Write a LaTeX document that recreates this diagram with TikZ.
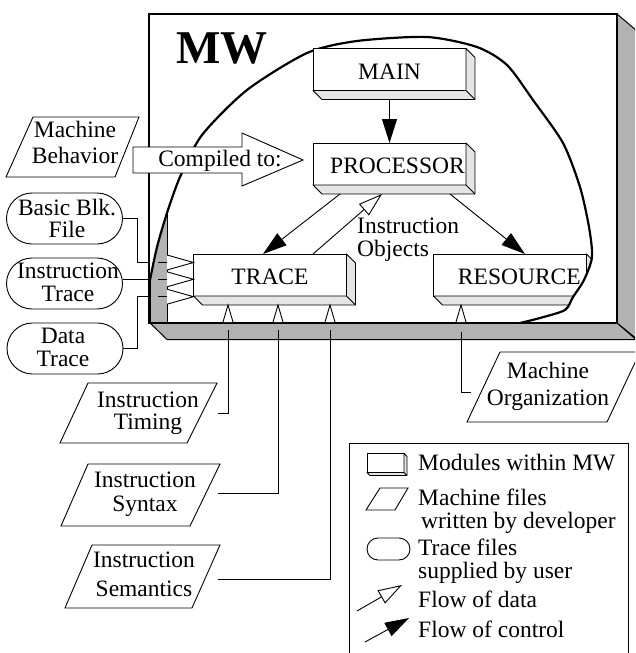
\documentclass[tikz,border=0pt]{standalone}
\usepackage{fontspec}
\setmainfont{Liberation Serif}
\usetikzlibrary{arrows.meta,calc,shapes.misc}
\definecolor{traygray}{gray}{0.70}
\definecolor{depthgray}{gray}{0.90}
\newcommand\moddepth[2]{%
  \filldraw[depthface] (#1.north east) -- ++(#2,#2) -- ($(#1.south east)+(#2,#2)$) -- ($(#1.south west)+(#2,#2)$) -- (#1.south west) -- (#1.south east) -- cycle;
  \draw[depthface] (#1.south east) -- ++(#2,#2);}
\begin{document}
\begin{tikzpicture}[x=1pt,y=-1pt,
  tray/.style={fill=traygray, draw=black, line width=1pt, line join=round},
  depthface/.style={fill=depthgray, draw=black, line width=0.9pt, line join=round},
  module/.style={draw, fill=white, line width=0.9pt, minimum width=153pt, minimum height=42pt,
     inner sep=0pt, outer sep=0pt, text height=19pt, text depth=0pt, font=\fontsize{23.5}{24}\selectfont},
  oval/.style={draw, fill=white, line width=0.9pt, rounded rectangle, minimum width=116pt,
     minimum height=51pt, inner sep=0pt, outer sep=0pt},
  para/.style={draw, fill=white, line width=0.9pt, line join=miter},
  txt/.style={inner sep=0pt, align=center},
  conn/.style={line width=0.9pt},
  tri/.style={draw, fill=white, line width=0.9pt, line join=miter},
  ctrl/.style={line width=0.9pt, -{Triangle[length=24pt,width=15pt]}},
  data/.style={line width=0.9pt, -{Triangle[open,length=24pt,width=15pt,fill=white]}},
]
\useasboundingbox (0,0) rectangle (635,653);
\clip (0,0) rectangle (635,653);

% ---- MW tray (3D box) ----
\filldraw[tray] (617,14) -- (637,31) -- (637,339) -- (617,323) -- cycle;
\filldraw[tray] (150,323) -- (617,323) -- (636,339.5) -- (167,339.5) -- cycle;

\begin{scope}
  \clip plot[smooth,tension=0.45] coordinates {(150,280) (157,247) (167,213) (180,177) (202,135) (247,90) (307,53) (357,41) (427,37) (477,47) (507,65) (533,100) (563,143) (580,187) (589,227) (592,257) (584,280) (573,297) (565,310) (540,318) (520,323)} -- (150,323) -- cycle;
  \filldraw[tray] (150,150) rectangle (167,323);
  \node[module] (res) at (510,275) {\hspace*{18.7pt}RESOURCE};
  \moddepth{res}{9}
\end{scope}

\draw[line width=2pt] (149,14) rectangle (617,323);

% blob boundary
\draw[line width=2.2pt, line join=round, line cap=round] plot[smooth,tension=0.45] coordinates {(150,280) (157,247) (167,213) (180,177) (202,135) (247,90) (307,53) (357,41) (427,37) (477,47) (507,65) (533,100) (563,143) (580,187) (589,227) (592,257) (584,280) (573,297) (565,310) (540,318) (520,323)};

\node[font=\fontsize{47}{47}\selectfont\bfseries, inner sep=0pt, anchor=base west] (mw) at (176,63) {MW};

% ---- modules ----
\node[module] (main) at (389.5,69.5) {MAIN};
\moddepth{main}{9}
\node[module] (proc) at (389.5,164) {\hspace*{16pt}PROCESSOR};
\moddepth{proc}{9}
\node[module] (trace) at (270,275) {TRACE};
\moddepth{trace}{9}

% ---- arrows between modules ----
\draw[ctrl] ($(main.south)+(0,9)$) -- (proc.north);
\draw[ctrl] ($(proc.south west)+(27,9)$) -- ($(trace.north)+(-7,0)$);
\draw[data] ($(trace.north)+(43,0)$) -- ($(proc.south)+(-7.5,9)$);
\draw[ctrl] ($(proc.south)+(60.5,9)$) -- ($(res.north)+(15,0)$);
\node[txt, align=left, anchor=west, font=\fontsize{23.5}{23.4}\selectfont] (iobj) at (357,239.5) {Instruction\\Objects};

% ---- Machine Behavior + Compiled to ----
\draw[para] (33,117) -- (139,117) -- (115,177) -- (6,177) -- cycle;
\node[txt, font=\fontsize{23.5}{26}\selectfont] (mbeh) at (75,142) {Machine\\Behavior};
\draw[line width=0.9pt, fill=white, line join=miter] (133,147) -- (242,147) -- (242,133) -- (303,160) -- (242,186) -- (242,173) -- (133,173) -- cycle;
\node[inner sep=0pt, anchor=base, font=\fontsize{23.5}{24}\selectfont] (comp) at (220,166) {Compiled to:};

% ---- trace files (ovals) ----
\node[oval] (bblk) at (64.5,218.5) {};
\node[txt, font=\fontsize{23.5}{22.5}\selectfont] (bblkt) at (67,218.5) {Basic Blk.\\File};
\node[oval] (itr) at (64.5,283.5) {};
\node[txt, font=\fontsize{23.5}{22.5}\selectfont] (itrt) at (68,282.5) {Instruction\\Trace};
\node[oval] (dtr) at (65,348.5) {};
\node[txt, font=\fontsize{23.5}{22.5}\selectfont] (dtrt) at (63,347.5) {Data\\Trace};

\coordinate (jx) at (137,0);
\coordinate (in1) at (149,262.5);
\coordinate (in2) at (149,279.3);
\coordinate (in3) at (149,296.7);
\draw[conn] (bblk.east) -| (jx |- in1) -- (in1);
\draw[conn] (itr.east |- in2) -- (in2);
\draw[conn] (dtr.east) -| (jx |- in3) -- (in3);
% ticks and hollow heads into TRACE
\foreach \y in {262.5,279.3,296.7}{
  \draw[conn] (158,\y) -- (167,\y);
  \draw[tri] (167,\y-7.5) -- (trace.west |- 0,\y) -- (167,\y+7.5);
}

% ---- machine files below ----
\draw[para] (88,383) -- (217,383) -- (187,443) -- (60,443) -- cycle;
\node[txt, font=\fontsize{23.5}{22.5}\selectfont] (tim) at (148,413.5) {Instruction\\Timing};
\draw[para] (88,464) -- (220,464) -- (190,526) -- (61,526) -- cycle;
\node[txt, font=\fontsize{23.5}{24}\selectfont] (syn) at (145,494.5) {Instruction\\Syntax};
\draw[para] (92,545) -- (220,545) -- (192,608) -- (65,608) -- cycle;
\node[txt, font=\fontsize{23.5}{29}\selectfont] (sem) at (144,574.7) {Instruction\\Semantics};
\draw[para] (500,352) -- (640,352) -- (607,422) -- (467,422) -- cycle;
\node[txt, font=\fontsize{23.5}{27}\selectfont] (morg) at (548,386) {Machine\\Organization};

\coordinate (timE) at (218,413);
\coordinate (synE) at (218,493);
\coordinate (semE) at (218,579);
\coordinate (morgW) at (471,392);
\coordinate (b1) at (228,330);
\coordinate (b2) at (278,330);
\coordinate (b3) at (330,330);
\coordinate (b4) at (461,332);
\draw[conn] (timE) -| (b1);
\draw[conn] (synE) -| (b2);
\draw[conn] (semE) -| (b3);
\draw[conn] (morgW) -| (b4);
\foreach \x in {228,278,330,461}{
  \draw[tri] (\x-5,322) -- (\x,305) -- (\x+5,322);
}

% ---- legend ----
\draw[line width=0.9pt] (349,443) rectangle (628,680);
\node[module, minimum width=37pt, minimum height=12pt] (leg1) at (385.5,463) {};
\moddepth{leg1}{3}
\node[inner sep=0pt, anchor=base west, font=\fontsize{23.5}{24}\selectfont] (leg1t) at (418,470.7) {Modules within MW};
\draw[para] (380,488) -- (408,488) -- (395,510) -- (366,510) -- cycle;
\node[txt, align=left, anchor=west, font=\fontsize{23.5}{22.5}\selectfont] (leg2t) at (418,511.5) {Machine files\\\hspace*{3pt}written by developer};
\node[oval, minimum width=43pt, minimum height=22pt] (leg3) at (388.5,549) {};
\node[txt, align=left, anchor=west, font=\fontsize{23.5}{23}\selectfont] (leg3t) at (418,561) {Trace files\\supplied by user};
\coordinate (ld1) at (357,611);
\coordinate (ld2) at (402,585);
\draw[data] (ld1) -- (ld2);
\node[inner sep=0pt, anchor=base west, font=\fontsize{23.5}{24}\selectfont] (leg4t) at (418,607.7) {Flow of data};
\coordinate (lc1) at (365,642);
\coordinate (lc2) at (409,618);
\draw[ctrl] (lc1) -- (lc2);
\node[inner sep=0pt, anchor=base west, font=\fontsize{23.5}{24}\selectfont] (leg5t) at (418,637.3) {Flow of control};
\end{tikzpicture}
\end{document}
